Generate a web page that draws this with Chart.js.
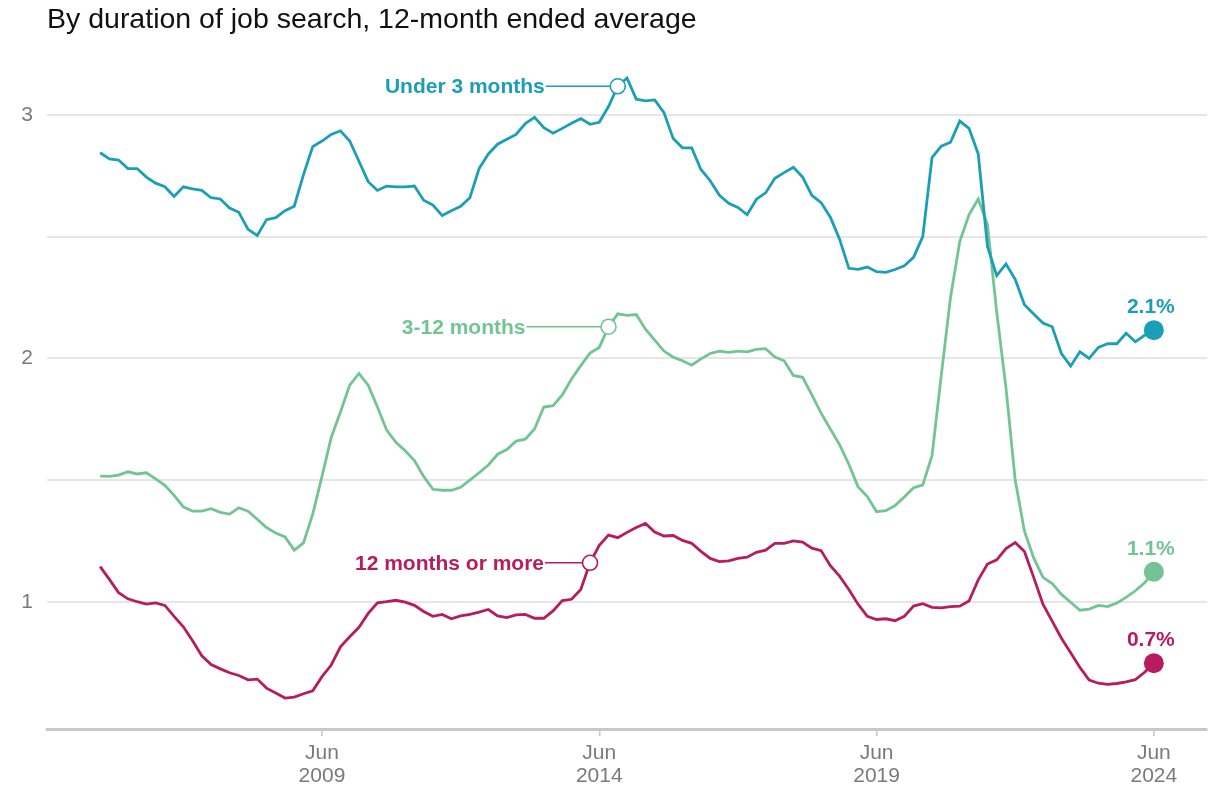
<!DOCTYPE html>
<html>
<head>
<meta charset="utf-8">
<script src="https://cdn.jsdelivr.net/npm/chart.js@4.4.1/dist/chart.umd.min.js"></script>
<style>
  html, body { margin: 0; padding: 0; background: #fff; }
  #wrap { width: 1210px; height: 791px; }
</style>
</head>
<body>
<div id="wrap"><canvas id="lineChart" width="1210" height="791"></canvas></div>
<script>
// 12-month ended averages, read every second month from Jun 2005 to Jun 2024
var startYear = 2005, startMonth = 5; // June
var stepMonths = 2;
var monthNames = ["Jan","Feb","Mar","Apr","May","Jun","Jul","Aug","Sep","Oct","Nov","Dec"];

var under3 = [
  2.845, 2.82, 2.815, 2.78, 2.78, 2.745,
  2.72, 2.705, 2.665, 2.705, 2.696, 2.69,
  2.66, 2.655, 2.618, 2.60, 2.53, 2.505,
  2.57, 2.578, 2.607, 2.625, 2.755, 2.87,
  2.893, 2.92, 2.935, 2.893, 2.81, 2.726,
  2.69, 2.708, 2.705, 2.705, 2.708, 2.65,
  2.63, 2.587, 2.607, 2.625, 2.66, 2.78,
  2.84, 2.88, 2.90, 2.92, 2.965, 2.99,
  2.948, 2.925, 2.945, 2.966, 2.985, 2.962,
  2.97, 3.035, 3.118, 3.152, 3.065, 3.058,
  3.062, 3.01, 2.903, 2.865, 2.865, 2.776,
  2.73, 2.67, 2.637, 2.62, 2.59, 2.654,
  2.68, 2.74, 2.763, 2.785, 2.745, 2.67,
  2.64, 2.58, 2.49, 2.37, 2.366, 2.375,
  2.356, 2.353, 2.365, 2.38, 2.415, 2.50,
  2.825, 2.872, 2.888, 2.975, 2.945, 2.84,
  2.46, 2.34, 2.388, 2.325, 2.22, 2.182,
  2.145, 2.13, 2.02, 1.968, 2.027, 2.00,
  2.045, 2.06, 2.06, 2.103, 2.068, 2.095,
  2.116
];

var from3to12 = [
  1.516, 1.515, 1.52, 1.534, 1.525, 1.53,
  1.505, 1.478, 1.437, 1.39, 1.372, 1.372,
  1.382, 1.367, 1.36, 1.386, 1.372, 1.339,
  1.305, 1.282, 1.266, 1.212, 1.242, 1.36,
  1.515, 1.675, 1.78, 1.89, 1.938, 1.89,
  1.80, 1.705, 1.655, 1.62, 1.58, 1.515,
  1.462, 1.458, 1.458, 1.47, 1.50, 1.53,
  1.562, 1.606, 1.625, 1.66, 1.668, 1.71,
  1.80, 1.806, 1.85, 1.915, 1.97, 2.022,
  2.045, 2.13, 2.183, 2.177, 2.18, 2.12,
  2.075, 2.03, 2.005, 1.99, 1.972, 1.998,
  2.02, 2.03, 2.025, 2.03, 2.027, 2.037,
  2.04, 2.005, 1.99, 1.93, 1.922, 1.85,
  1.775, 1.71, 1.645, 1.565, 1.472, 1.432,
  1.37, 1.374, 1.395, 1.43, 1.468, 1.48,
  1.60, 1.93, 2.25, 2.48, 2.59, 2.655,
  2.55, 2.19, 1.88, 1.50, 1.29, 1.18,
  1.10, 1.075, 1.03, 0.998, 0.965, 0.97,
  0.985, 0.98, 0.995, 1.018, 1.045, 1.078,
  1.123
];

var over12 = [
  1.144, 1.092, 1.037, 1.012, 1.0, 0.99,
  0.995, 0.985, 0.94, 0.897, 0.84, 0.778,
  0.742, 0.724, 0.708, 0.697, 0.679, 0.682,
  0.645, 0.625, 0.604, 0.608, 0.622, 0.634,
  0.692, 0.74, 0.815, 0.856, 0.895, 0.952,
  0.995, 1.0, 1.006, 0.998, 0.985, 0.96,
  0.94, 0.948, 0.93, 0.942, 0.948, 0.957,
  0.968, 0.942, 0.935, 0.946, 0.948, 0.932,
  0.932, 0.962, 1.005, 1.01, 1.05, 1.16,
  1.232, 1.274, 1.263, 1.285, 1.305, 1.322,
  1.286, 1.27, 1.272, 1.252, 1.24, 1.207,
  1.178, 1.165, 1.168, 1.178, 1.183, 1.203,
  1.212, 1.24, 1.24, 1.25, 1.245, 1.22,
  1.21, 1.148, 1.105, 1.05, 0.99, 0.94,
  0.927, 0.93, 0.922, 0.94, 0.982, 0.992,
  0.977, 0.975, 0.98, 0.982, 1.003, 1.09,
  1.155, 1.172, 1.218, 1.243, 1.206, 1.10,
  0.99, 0.92, 0.85, 0.79, 0.73, 0.678,
  0.665, 0.66, 0.664, 0.671, 0.68, 0.71,
  0.747
];

var seriesNames = ["Under 3 months", "3-12 months", "12 months or more"];
var seriesColors = ["#1a9fb6", "#72c592", "#b71c5e"];
var calloutMonths = ["Oct 2014", "Aug 2014", "Apr 2014"];
var calloutGaps = [73, 83, 46];
var endLabels = ["2.1%", "1.1%", "0.7%"];

var xTickValues = [48, 108, 168, 228];
var xTickLabels = [["Jun", "2009"], ["Jun", "2014"], ["Jun", "2019"], ["Jun", "2024"]];
var yTickValues = [1, 1.5, 2, 2.5, 3];
var chartTitle = "By duration of job search, 12-month ended average";

var FONT = '"Liberation Sans", Arial, Helvetica, sans-serif';

// the big end dots sit well inside the plot, so no extra layout room is wanted for them
Chart.registry.getController('line').prototype.getMaxOverflow = function () { return 0; };

// month labels for each reading
var months = under3.map(function (v, i) {
  var m = startMonth + i * stepMonths;
  return monthNames[m % 12] + " " + (startYear + Math.floor(m / 12));
});

function toPoints(values) {
  return values.map(function (v, i) { return { x: i * stepMonths, y: v }; });
}

var allSeries = [under3, from3to12, over12];
var datasets = allSeries.map(function (values, k) {
  var callIdx = months.indexOf(calloutMonths[k]);
  var lastIdx = values.length - 1;
  return {
    label: seriesNames[k],
    data: toPoints(values),
    borderColor: seriesColors[k],
    borderWidth: 2.8,
    tension: 0,
    clip: false,
    calloutIndex: callIdx,
    calloutGap: calloutGaps[k],
    endLabel: endLabels[k],
    pointRadius: function (c) { return c.dataIndex === lastIdx ? 10 : (c.dataIndex === callIdx ? 7.5 : 0); },
    pointHoverRadius: function (c) { return c.dataIndex === lastIdx ? 10 : (c.dataIndex === callIdx ? 7.5 : 0); },
    pointBackgroundColor: function (c) { return c.dataIndex === callIdx ? "#ffffff" : seriesColors[k]; },
    pointBorderColor: seriesColors[k],
    pointBorderWidth: function (c) { return c.dataIndex === callIdx ? 1.6 : 0; }
  };
});

var titlePlugin = {
  id: 'titleText',
  beforeDraw: function (chart) {
    var ctx = chart.ctx;
    ctx.save();
    ctx.fillStyle = '#fff';
    ctx.fillRect(0, 0, chart.width, chart.height);
    ctx.fillStyle = '#111';
    ctx.font = '28.5px ' + FONT;
    ctx.textAlign = 'left';
    ctx.textBaseline = 'alphabetic';
    ctx.fillText(chartTitle, 47, 28);
    ctx.restore();
  }
};

var calloutPlugin = {
  id: 'callouts',
  afterDatasetsDraw: function (chart) {
    var ctx = chart.ctx;
    chart.data.datasets.forEach(function (ds, di) {
      var pts = chart.getDatasetMeta(di).data;
      var a = pts[ds.calloutIndex];
      var e = pts[pts.length - 1];
      ctx.save();
      ctx.fillStyle = ds.borderColor;
      ctx.strokeStyle = ds.borderColor;
      ctx.font = 'bold 21px ' + FONT;
      ctx.textBaseline = 'middle';
      ctx.textAlign = 'right';
      var tx = a.x - ds.calloutGap;
      ctx.fillText(ds.label, tx, a.y + 1);
      ctx.lineWidth = 1.4;
      ctx.beginPath();
      ctx.moveTo(tx + 1, a.y);
      ctx.lineTo(a.x - 7.5, a.y);
      ctx.stroke();
      ctx.textAlign = 'center';
      ctx.fillText(ds.endLabel, e.x - 3, e.y - 23);
      ctx.restore();
    });
  }
};

var chart = new Chart(document.getElementById('lineChart').getContext('2d'), {
  type: 'line',
  data: { datasets: datasets },
  options: {
    responsive: false,
    animation: false,
    devicePixelRatio: 1,
    layout: { padding: { top: 60, right: 3, left: 0, bottom: 0 } },
    plugins: {
      legend: { display: false },
      tooltip: { enabled: false },
      title: { display: false }
    },
    scales: {
      x: {
        type: 'linear',
        min: -11.5,
        max: 239.5,
        afterBuildTicks: function (s) {
          s.ticks = xTickValues.map(function (v) { return { value: v }; });
        },
        afterFit: function (s) {
          s.height = 62;
          s.paddingLeft = 0;
          s.paddingRight = 0;
        },
        grid: {
          drawOnChartArea: false,
          drawTicks: true,
          tickLength: 7,
          color: '#c8c8c8',
          lineWidth: 1.5
        },
        border: { display: true, color: '#c8c8c8', width: 3 },
        ticks: {
          autoSkip: false,
          maxRotation: 0,
          padding: 6,
          color: '#7a7a7a',
          font: { family: FONT, size: 21, lineHeight: 1.1 },
          callback: function (v) {
            var i = xTickValues.indexOf(v);
            return i >= 0 ? xTickLabels[i] : '';
          }
        }
      },
      y: {
        min: 0.477,
        max: 3.226,
        afterBuildTicks: function (s) {
          s.ticks = yTickValues.map(function (v) { return { value: v }; });
        },
        afterFit: function (s) { s.width = 47; },
        grid: { color: '#e6e6e6', lineWidth: 2, drawTicks: false },
        border: { display: false },
        ticks: {
          padding: 14,
          color: '#7a7a7a',
          font: { family: FONT, size: 21 },
          callback: function (v) { return Number.isInteger(v) ? String(v) : ''; }
        }
      }
    }
  },
  plugins: [titlePlugin, calloutPlugin]
});
</script>
</body>
</html>
